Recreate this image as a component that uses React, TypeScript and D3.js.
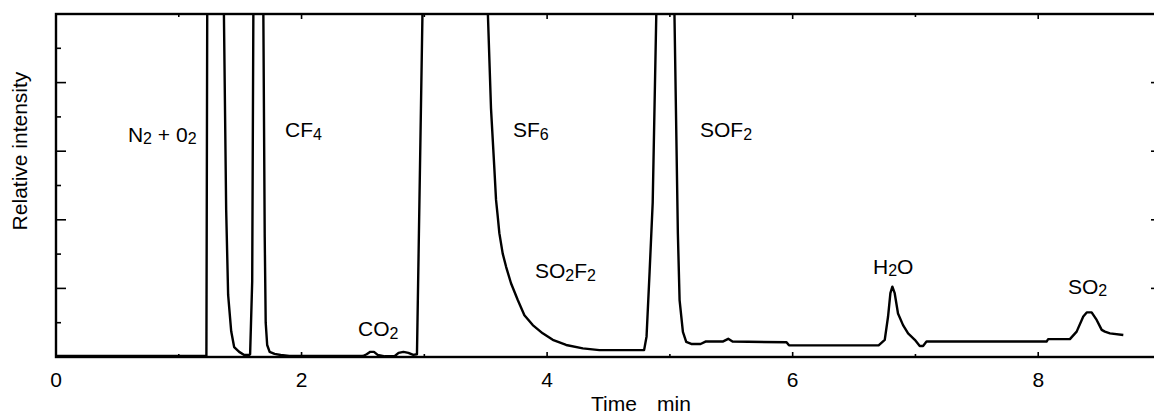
import * as d3 from 'd3';

// chromatogram trace
const timeMin = [
  0.0, 1.0, 1.225, 1.232, 1.366, 1.386, 1.402, 1.427, 1.451, 1.492, 1.533, 1.573,
  1.581, 1.598, 1.608, 1.688, 1.7, 1.708, 1.72, 1.74, 1.78, 1.83, 1.9,
  2.5, 2.53, 2.56, 2.59, 2.62, 2.68, 2.76, 2.79, 2.83, 2.87, 2.91, 2.94, 2.987,
  3.513, 3.543, 3.571, 3.584, 3.598, 3.611, 3.638, 3.666, 3.706, 3.761, 3.815, 3.883,
  3.964, 4.046, 4.155, 4.291, 4.426, 4.79, 4.81, 4.835, 4.86, 4.892,
  5.035, 5.065, 5.079, 5.106, 5.133, 5.174, 5.25, 5.29, 5.43, 5.475, 5.51, 5.95, 5.97,
  6.7, 6.75, 6.777, 6.796, 6.812, 6.831, 6.858, 6.899, 6.94, 6.995, 7.035, 7.062, 7.09,
  8.068, 8.081, 8.258, 8.313, 8.367, 8.395, 8.435, 8.476, 8.517, 8.543, 8.584, 8.693,
];
const intensity = [
  0.03, 0.03, 0.03, 10.5, 10.5, 4.29, 1.81, 0.75, 0.29, 0.15, 0.06, 0.06,
  0.08, 2.2, 10.5, 10.5, 3.5, 1.0, 0.35, 0.15, 0.09, 0.06, 0.03,
  0.03, 0.08, 0.15, 0.15, 0.06, 0.02, 0.03, 0.12, 0.15, 0.12, 0.06, 0.08, 10.5,
  10.5, 7.25, 5.45, 4.58, 4.09, 3.61, 3.02, 2.63, 2.15, 1.66, 1.22, 0.93,
  0.69, 0.5, 0.35, 0.25, 0.2, 0.2, 0.6, 2.5, 4.5, 10.5,
  10.5, 3.6, 1.66, 0.73, 0.44, 0.38, 0.38, 0.45, 0.45, 0.53, 0.45, 0.43, 0.34,
  0.34, 0.5, 1.18, 1.86, 2.05, 1.86, 1.27, 0.93, 0.69, 0.5, 0.32, 0.32, 0.45,
  0.45, 0.52, 0.52, 0.74, 1.18, 1.3, 1.3, 1.08, 0.79, 0.74, 0.69, 0.64,
];

// peak annotations (text start, in time / intensity units)
const peakNames = ['N_2 + 0_2', 'CF_4', 'CO_2', 'SF_6', 'SO_2F_2', 'SOF_2', 'H_2O', 'SO_2'];
const peakTime = [0.586, 1.865, 2.46, 3.722, 3.901, 5.245, 6.654, 8.242];
const peakLevel = [6.27, 6.41, 0.61, 6.41, 2.3, 6.41, 2.42, 1.84];

const xTicks = [1, 2, 3, 4, 5, 6, 7, 8];
const xTickLabels = ['0', '2', '4', '6', '8'];
const yTicks = [1, 2, 3, 4, 5, 6, 7, 8, 9];

const W = 1154;
const H = 414;
const font = 'Liberation Sans, Arial, sans-serif';

const x = d3.scaleLinear().domain([0, 9]).range([56, 1161]);
const y = d3.scaleLinear().domain([0, 10]).range([357, 14]);

const Formula = ({ label, tx, ty }: { label: string; tx: number; ty: number }) => {
  const parts = label.split(/_(\d)/);
  return (
    <text x={tx} y={ty} fontSize={21} fontFamily={font} fill="#000" style={{ whiteSpace: 'pre' }}>
      {parts.map((p, i) =>
        i % 2 === 1 ? (
          <tspan key={i} fontSize={16} dy={2.5}>{p}</tspan>
        ) : (
          <tspan key={i} dy={i === 0 ? 0 : -2.5}>{p}</tspan>
        )
      )}
    </text>
  );
};

export default function App() {
  const pts = timeMin.map((t, i) => [t, intensity[i]] as [number, number]);
  const line = d3.line<[number, number]>()
    .x((d) => x(d[0]))
    .y((d) => y(d[1]));

  const [x0, x1] = x.range();
  const [y0, y1] = y.range();

  return (
    <svg width={W} height={H} style={{ position: 'absolute', left: 0, top: 0, background: '#fff' }}>
      <defs>
        <clipPath id="plot">
          <rect x={x0} y={y1} width={x1 - x0} height={y0 - y1} />
        </clipPath>
      </defs>

      <path d={line(pts) ?? ''} fill="none" stroke="#000" strokeWidth={2.4} strokeLinejoin="round" clipPath="url(#plot)" />

      {/* frame */}
      <rect x={x0} y={y1} width={x1 - x0} height={y0 - y1} fill="none" stroke="#000" strokeWidth={2.4} />

      {/* x ticks, bottom and top, pointing in */}
      {xTicks.map((t) => {
        const len = t % 2 === 0 ? 5 : 3;
        return (
          <g key={t} stroke="#000" strokeWidth={1.6}>
            <line x1={x(t)} x2={x(t)} y1={y0} y2={y0 - len} />
            <line x1={x(t)} x2={x(t)} y1={y1} y2={y1 + len} />
          </g>
        );
      })}

      {/* y ticks, left and right */}
      {yTicks.map((v) => {
        const len = v % 2 === 0 ? 10 : 5;
        return (
          <g key={v} stroke="#000" strokeWidth={1.6}>
            <line x1={x0} x2={x0 + len} y1={y(v)} y2={y(v)} />
            <line x1={x1} x2={x1 - len} y1={y(v)} y2={y(v)} />
          </g>
        );
      })}

      {xTickLabels.map((s) => (
        <text key={s} x={x(+s)} y={387} textAnchor="middle" fontSize={21} fontFamily={font}>
          {s}
        </text>
      ))}

      <text x={591} y={411} fontSize={21} fontFamily={font}>Time</text>
      <text x={657} y={411} fontSize={21} fontFamily={font}>min</text>

      <text
        transform={`translate(27, 151) rotate(-90)`}
        textAnchor="middle"
        fontSize={21}
        fontFamily={font}
      >
        Relative intensity
      </text>

      {peakNames.map((n, i) => (
        <Formula key={n} label={n} tx={x(peakTime[i])} ty={y(peakLevel[i])} />
      ))}
    </svg>
  );
}
